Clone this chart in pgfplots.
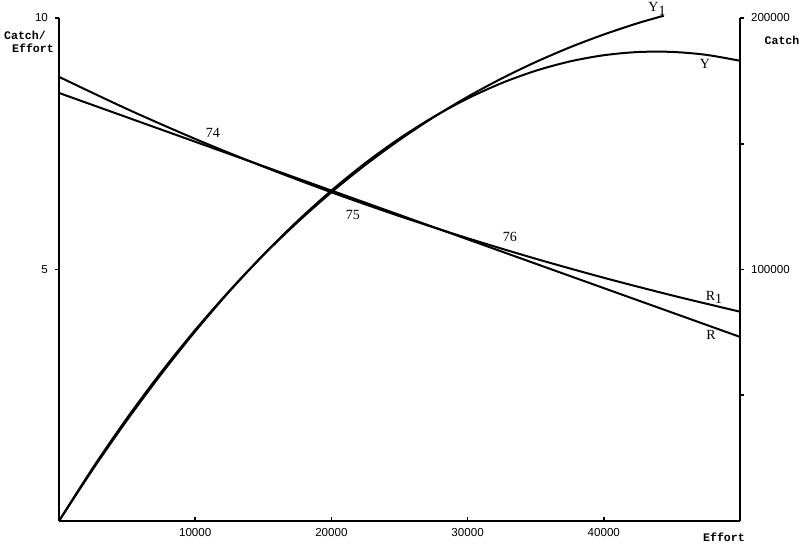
\documentclass[border=0pt]{standalone}
\usepackage{pgfplots}
\pgfplotsset{compat=1.18}
\usepackage{fontspec}
\setmainfont{Liberation Serif}
\newfontfamily\tickf{Liberation Sans}
\newfontfamily\monof{Liberation Mono}
\begin{document}
\begin{tikzpicture}
\pgfplotsset{base/.style={scale only axis, width=340.5pt, height=251.5pt,
  xmin=0, xmax=50000, clip=false,
  axis line style={line width=1pt,-},
  tick style={line width=0.8pt,black}, major tick length=2pt,
  scaled ticks=false,
  /pgf/number format/fixed, /pgf/number format/1000 sep={},
  /pgf/number format/assume math mode=true,
  tick label style={font=\fontsize{5.8}{6}\selectfont\tickf}}}
% x axis (ticks inside) + catch/effort curves
\begin{axis}[base, name=ax, axis x line*=bottom, axis y line=none,
  ymin=0, ymax=10, xtick={10000,20000,30000,40000}, ytick=\empty, tick align=inside]
\addplot[line width=1pt, black] coordinates {(0,8.51) (50000,3.66)};
\addplot[line width=1pt, black, smooth] coordinates {
 (0,8.830) (5000,8.190) (10000,7.596) (15000,7.046) (20000,6.535) (25000,6.061)
 (30000,5.622) (35000,5.214) (40000,4.836) (45000,4.486) (50000,4.161)};
\node[font=\fontsize{7}{8}\selectfont] at (axis cs:11307,7.71) {74};
\node[font=\fontsize{7}{8}\selectfont] at (axis cs:21586,6.08) {75};
\node[font=\fontsize{7}{8}\selectfont] at (axis cs:33113,5.65) {76};
\node[font=\fontsize{7}{8}\selectfont] at (axis cs:43906,10.18) {Y\raisebox{-0.6ex}{1}};
\node[font=\fontsize{7}{8}\selectfont] at (axis cs:47430,9.09) {Y};
\node[font=\fontsize{7}{8}\selectfont] at (axis cs:48091,4.45) {R\raisebox{-0.4ex}{1}};
\node[font=\fontsize{7}{8}\selectfont] at (axis cs:47870,3.70) {R};
\node[font=\fontsize{5.8}{6}\selectfont\monof\bfseries] at (axis cs:-2496,9.66) {Catch/};
\node[font=\fontsize{5.8}{6}\selectfont\monof\bfseries] at (axis cs:-1909,9.40) {Effort};
\node[font=\fontsize{5.8}{6}\selectfont\monof\bfseries] at (axis cs:53084,9.56) {Catch};
\node[font=\fontsize{5.8}{6}\selectfont\monof\bfseries] at (axis cs:48825,-0.32) {Effort};
\end{axis}
% left y axis
\begin{axis}[base, axis y line*=left, axis x line=none,
  ymin=0, ymax=10, ytick={5,10}, xtick=\empty, tick align=outside]
\end{axis}
% right y axis + catch curves
\begin{axis}[base, axis y line*=right, axis x line=none,
  ymin=0, ymax=200000, ytick={50000,100000,150000,200000},
  yticklabels={,100000,,200000}, xtick=\empty, tick align=outside]
\addplot[line width=1pt, black, smooth] coordinates {
 (0,0) (2500,20669) (5000,40125) (7500,58369) (10000,75400) (12500,91219)
 (15000,105825) (17500,119219) (20000,131400) (22500,142369) (25000,152125)
 (27500,160669) (30000,168000) (32500,174119) (35000,179025) (37500,182719)
 (40000,185200) (42500,186469) (45000,186525) (47500,185369) (50000,183000)};
\addplot[line width=1pt, black, smooth] coordinates {
 (0,0) (2500,21260) (5000,40950) (7500,59156) (10000,75960) (12500,91448)
 (15000,105690) (17500,118746) (20000,130700) (22500,141606) (25000,151525)
 (27500,160528) (30000,168660) (32500,175963) (35000,182490) (37500,188316)
 (40000,193440) (42500,197953) (44400,200900)};
\end{axis}
\pgfresetboundingbox
\path[use as bounding box] ([xshift=-29.5pt,yshift=-11pt]ax.south west) rectangle ([xshift=30pt,yshift=9pt]ax.north east);
\end{tikzpicture}
\end{document}
